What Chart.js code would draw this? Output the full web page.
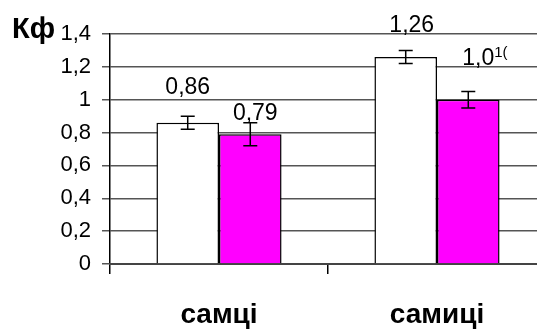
<!DOCTYPE html>
<html>
<head>
<meta charset="utf-8">
<script src="https://cdn.jsdelivr.net/npm/chart.js@4.4.1/dist/chart.umd.min.js"></script>
<style>
  html, body { margin: 0; padding: 0; background: #fff; overflow: hidden; }
  #wrap { width: 560px; height: 331px; }
</style>
</head>
<body>
<div id="wrap"><canvas id="chart" width="560" height="331"></canvas></div>
<script>
// Дані з рисунка
const categories = ['самці', 'самиці'];
const whiteValues = [0.86, 1.26];
const pinkValues = [0.79, 1.00];
const whiteErrors = [0.04, 0.04];
const pinkErrors = [0.07, 0.05];
const whiteLabels = ['0,86', '1,26'];
const pinkLabels = ['0,79', '1,0'];
const pinkLabelSup = ['', '1('];
const yTicks = [0, 0.2, 0.4, 0.6, 0.8, 1, 1.2, 1.4];

const FONT = '"Liberation Sans", Arial, sans-serif';

// підписи значень: зсув від центру стовпця і висота над ним (px)
const labelOffsets = [
  [{ dx: 0, dy: 29, align: 'center' }, { dx: 6, dy: 25, align: 'center' }],
  [{ dx: 5, dy: 14, align: 'center' }, { dx: -6, dy: 35, align: 'left' }]
];

const errorBarsPlugin = {
  id: 'errorBars',
  afterDatasetsDraw(chart) {
    const ctx = chart.ctx;
    const y = chart.scales.y;
    const errs = [whiteErrors, pinkErrors];
    const texts = [whiteLabels, pinkLabels];
    const sups = [[], pinkLabelSup];
    chart.data.datasets.forEach((ds, di) => {
      const meta = chart.getDatasetMeta(di);
      meta.data.forEach((bar, i) => {
        const v = ds.data[i];
        const e = errs[di][i];
        const top = y.getPixelForValue(v + e);
        const bot = y.getPixelForValue(v - e);
        ctx.save();
        ctx.strokeStyle = '#000';
        ctx.lineWidth = 1.5;
        ctx.beginPath();
        ctx.moveTo(bar.x, top);
        ctx.lineTo(bar.x, bot);
        ctx.moveTo(bar.x - 7, top);
        ctx.lineTo(bar.x + 7, top);
        ctx.moveTo(bar.x - 7, bot);
        ctx.lineTo(bar.x + 7, bot);
        ctx.stroke();

        // підпис
        const off = labelOffsets[di][i];
        ctx.fillStyle = '#000';
        ctx.font = '23px ' + FONT;
        ctx.textBaseline = 'alphabetic';
        ctx.textAlign = off.align;
        const lx = bar.x + off.dx;
        const ly = bar.y - off.dy;
        ctx.fillText(texts[di][i], lx, ly);
        const sup = sups[di][i];
        if (sup) {
          const w = ctx.measureText(texts[di][i]).width;
          ctx.font = '15px ' + FONT;
          ctx.textAlign = 'left';
          ctx.fillText(sup, lx + w, ly - 8);
        }
        ctx.restore();
      });
    });
  },
  afterDraw(chart) {
    const ctx = chart.ctx;
    ctx.save();
    ctx.fillStyle = '#000';
    ctx.font = 'bold 29px ' + FONT;
    ctx.textAlign = 'left';
    ctx.textBaseline = 'alphabetic';
    ctx.fillText('Кф', 12, 38);
    ctx.restore();
  }
};

new Chart(document.getElementById('chart').getContext('2d'), {
  type: 'bar',
  data: {
    labels: categories,
    datasets: [{
      data: whiteValues,
      backgroundColor: '#ffffff',
      borderColor: '#000000',
      borderWidth: 1.5,
      categoryPercentage: 0.574,
      barPercentage: 1
    }, {
      data: pinkValues,
      backgroundColor: '#ff00ff',
      borderColor: '#000000',
      borderWidth: 1.5,
      categoryPercentage: 0.574,
      barPercentage: 1
    }]
  },
  options: {
    responsive: false,
    animation: false,
    layout: { padding: { top: 34, right: 14, left: 0, bottom: 0 } },
    plugins: {
      legend: { display: false },
      tooltip: { enabled: false }
    },
    scales: {
      y: {
        min: 0,
        max: 1.4,
        afterBuildTicks: (scale) => { scale.ticks = yTicks.map(v => ({ value: v })); },
        afterFit: (scale) => { scale.width = 110; },
        ticks: {
          color: '#000',
          font: { family: FONT, size: 22 },
          padding: 11,
          callback: (v) => String(Math.round(v * 10) / 10).replace('.', ',')
        },
        grid: { color: '#555', lineWidth: 1.5, tickLength: 8 },
        border: { color: '#000', width: 1.5 }
      },
      x: {
        afterFit: (scale) => { scale.height = 67; },
        ticks: {
          color: '#000',
          font: { family: FONT, size: 28, weight: 'bold' },
          padding: 24
        },
        grid: { drawOnChartArea: false, drawTicks: true, tickLength: 10, color: '#000', lineWidth: 1.5 },
        border: { color: '#444', width: 2 }
      }
    }
  },
  plugins: [errorBarsPlugin]
});
</script>
</body>
</html>
